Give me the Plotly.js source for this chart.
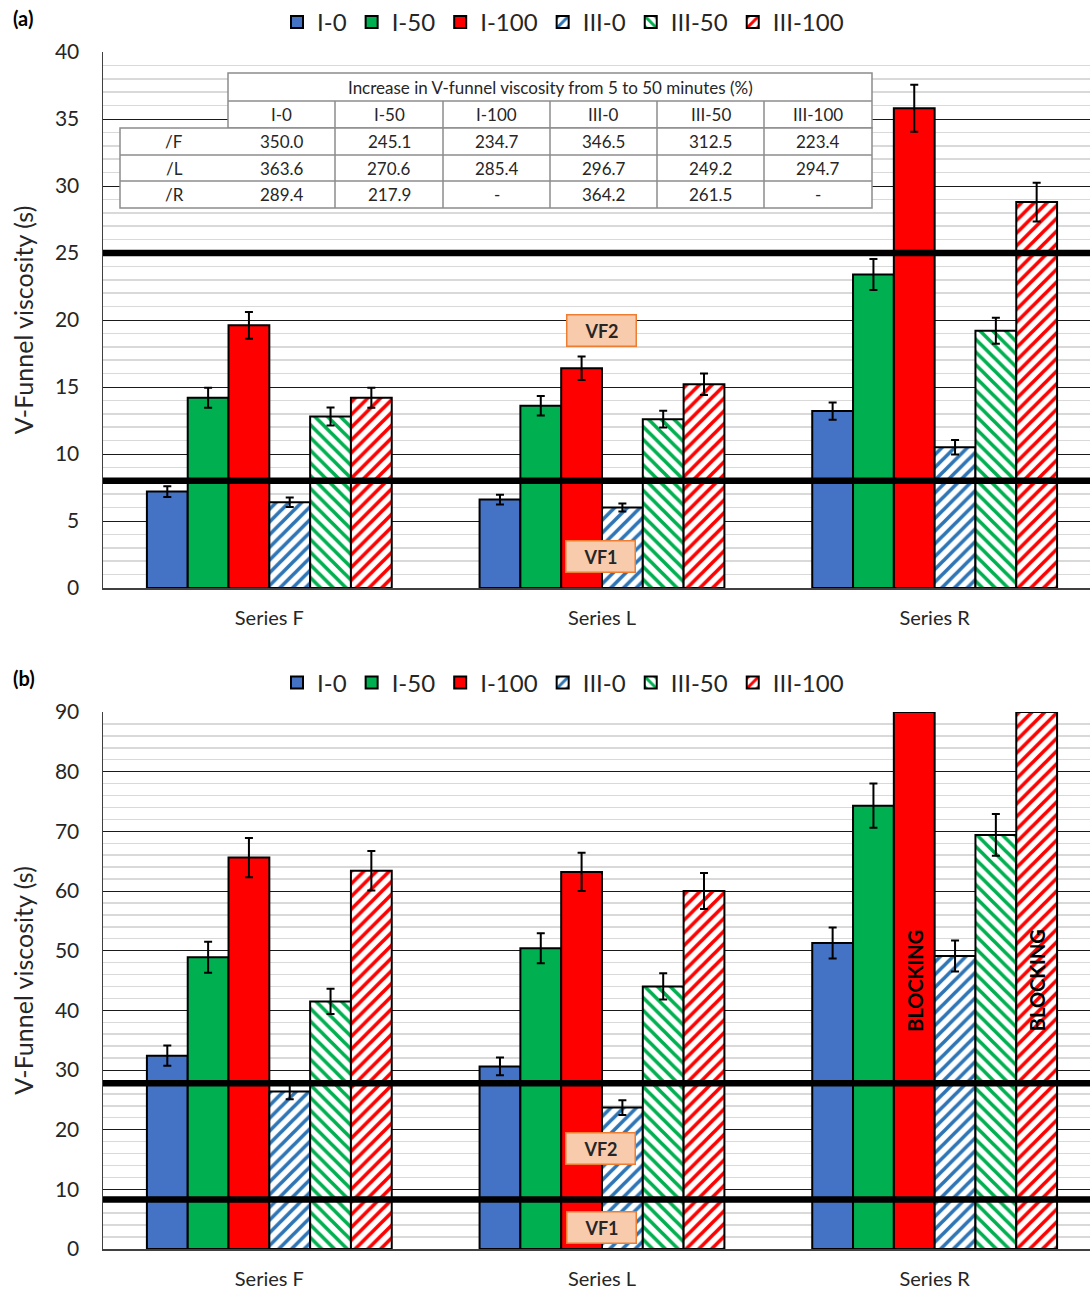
<!DOCTYPE html>
<html>
<head>
<meta charset="utf-8">
<script src="https://cdn.plot.ly/plotly-3.0.1.min.js"></script>
<style>html,body{margin:0;padding:0;background:#fff;}#chart{width:1090px;height:1292px;}</style>
</head>
<body>
<div id="chart"></div>
<script>
// ---------- DATA ----------
const categories = ['Series F', 'Series L', 'Series R'];
const seriesNames = ['I-0', 'I-50', 'I-100', 'III-0', 'III-50', 'III-100'];

// Panel (a): V-funnel at 5 minutes
const a_I0    = [7.2, 6.6, 13.2];
const a_I50   = [14.2, 13.6, 23.4];
const a_I100  = [19.6, 16.4, 35.8];
const a_III0  = [6.4, 6.0, 10.5];
const a_III50 = [12.8, 12.6, 19.2];
const a_III100= [14.2, 15.2, 28.8];
const aErr_I0    = [0.4, 0.36, 0.64];
const aErr_I50   = [0.75, 0.72, 1.16];
const aErr_I100  = [1.0, 0.87, 1.75];
const aErr_III0  = [0.35, 0.3, 0.54];
const aErr_III50 = [0.67, 0.62, 0.97];
const aErr_III100= [0.75, 0.8, 1.45];

// Panel (b): V-funnel at 50 minutes (90 = BLOCKING)
const b_I0    = [32.4, 30.6, 51.3];
const b_I50   = [48.9, 50.4, 74.3];
const b_I100  = [65.6, 63.2, 90];
const b_III0  = [26.4, 23.7, 49.1];
const b_III50 = [41.5, 44.0, 69.4];
const b_III100= [63.4, 60.0, 90];
const bErr_I0    = [1.7, 1.5, 2.6];
const bErr_I50   = [2.6, 2.5, 3.7];
const bErr_I100  = [3.3, 3.2, null];
const bErr_III0  = [1.3, 1.25, 2.6];
const bErr_III50 = [2.1, 2.2, 3.5];
const bErr_III100= [3.3, 3.0, null];

// Class limits
const limitsA = [8, 25];
const limitsB = [8.3, 27.8];

// Inset table (Increase from 5 to 50 minutes, %)
const tableTitle = 'Increase in V-funnel viscosity from 5 to 50 minutes (%)';
const tableRowLabels = ['/F', '/L', '/R'];
const tableRowF = ['350.0', '245.1', '234.7', '346.5', '312.5', '223.4'];
const tableRowL = ['363.6', '270.6', '285.4', '296.7', '249.2', '294.7'];
const tableRowR = ['289.4', '217.9', '-', '364.2', '261.5', '-'];

// ---------- STYLE ----------
const FONT = 'Lato, "Open Sans", sans-serif';
const colors = ['#4472c4', '#00b050', '#ff0000', '#2e75b6', '#00b050', '#ff0000'];
const patterns = ['', '', '', '/', '\\', '/'];
const BARGAP = 0.264;

const W = 1090, H = 1292, ML = 103, MR = 0, MT = 52, MB = 43;
const plotW = W - ML - MR, plotH = H - MT - MB;
const px = x => (x - ML) / plotW;
const py = y => (H - MB - y) / plotH;

const dataA = [a_I0, a_I50, a_I100, a_III0, a_III50, a_III100];
const errA = [aErr_I0, aErr_I50, aErr_I100, aErr_III0, aErr_III50, aErr_III100];
const dataB = [b_I0, b_I50, b_I100, b_III0, b_III50, b_III100];
const errB = [bErr_I0, bErr_I50, bErr_I100, bErr_III0, bErr_III50, bErr_III100];

function makeTrace(i, vals, errs, xa, ya, legendId) {
  const marker = {line: {color: '#000', width: 2}};
  if (patterns[i]) {
    marker.color = '#ffffff';
    marker.pattern = {shape: patterns[i], fgcolor: colors[i], bgcolor: '#ffffff', size: 9, solidity: 0.4, fillmode: 'replace'};
  } else {
    marker.color = colors[i];
  }
  return {
    type: 'bar', name: seriesNames[i], x: categories, y: vals,
    xaxis: xa, yaxis: ya, legend: legendId,
    marker: marker,
    error_y: {type: 'data', array: errs, visible: true, color: '#000', thickness: 2, width: 4},
    hoverinfo: 'x+y+name'
  };
}

const traces = [];
for (let i = 0; i < 6; i++) traces.push(makeTrace(i, dataA[i], errA[i], 'x', 'y', 'legend'));
for (let i = 0; i < 6; i++) traces.push(makeTrace(i, dataB[i], errB[i], 'x2', 'y2', 'legend2'));

// ---------- SHAPES ----------
const shapes = [];
limitsA.forEach(v => shapes.push({type: 'line', xref: 'x domain', yref: 'y', x0: 0, x1: 1, y0: v, y1: v, line: {color: '#000', width: 6.5}, layer: 'above'}));
limitsB.forEach(v => shapes.push({type: 'line', xref: 'x2 domain', yref: 'y2', x0: 0, x1: 1, y0: v, y1: v, line: {color: '#000', width: 6.5}, layer: 'above'}));

// Table geometry (pixels)
const colEdges = [120, 228, 335, 443, 550, 657, 764, 872];
const rowEdges = [73, 101, 128, 155, 181, 208];
const tb = {color: '#8c8c8c', width: 1.5};
shapes.push({type: 'rect', xref: 'paper', yref: 'paper', x0: px(colEdges[1]), x1: px(colEdges[7]), y0: py(rowEdges[0]), y1: py(rowEdges[2]), fillcolor: '#fff', line: tb, layer: 'above'});
shapes.push({type: 'rect', xref: 'paper', yref: 'paper', x0: px(colEdges[0]), x1: px(colEdges[7]), y0: py(rowEdges[2]), y1: py(rowEdges[5]), fillcolor: '#fff', line: tb, layer: 'above'});
shapes.push({type: 'line', xref: 'paper', yref: 'paper', x0: px(colEdges[1]), x1: px(colEdges[7]), y0: py(rowEdges[1]), y1: py(rowEdges[1]), line: tb, layer: 'above'});
[3, 4].forEach(r => shapes.push({type: 'line', xref: 'paper', yref: 'paper', x0: px(colEdges[0]), x1: px(colEdges[7]), y0: py(rowEdges[r]), y1: py(rowEdges[r]), line: tb, layer: 'above'}));
for (let c = 2; c < 7; c++) shapes.push({type: 'line', xref: 'paper', yref: 'paper', x0: px(colEdges[c]), x1: px(colEdges[c]), y0: py(rowEdges[1]), y1: py(rowEdges[5]), line: tb, layer: 'above'});

// ---------- ANNOTATIONS ----------
const ann = [];
const tfont = {family: FONT, size: 17, color: '#262626'};
const cx = c => px((colEdges[c] + colEdges[c + 1]) / 2);
const cy = r => py((rowEdges[r] + rowEdges[r + 1]) / 2);
const cell = (x, y, text) => ({xref: 'paper', yref: 'paper', x: x, y: y, xanchor: 'center', yanchor: 'middle', text: text, showarrow: false, font: tfont});
ann.push(cell(px((colEdges[1] + colEdges[7]) / 2), cy(0), tableTitle));
seriesNames.forEach((s, c) => ann.push(cell(cx(c + 1), cy(1), s)));
const tableRows = [tableRowF, tableRowL, tableRowR];
tableRows.forEach((row, r) => {
  ann.push(cell(cx(0), cy(r + 2), tableRowLabels[r]));
  row.forEach((v, c) => ann.push(cell(cx(c + 1), cy(r + 2), v)));
});

// VF boxes
function vfBox(text, xPix, yPix) {
  return {xref: 'paper', yref: 'paper', x: px(xPix), y: py(yPix), xanchor: 'center', yanchor: 'middle', text: '<b>' + text + '</b>', showarrow: false,
    font: {family: FONT, size: 18, color: '#262626'}, bgcolor: '#f8cbad', bordercolor: '#ed7d31', borderwidth: 1.5,
    width: 66, height: 28};
}
ann.push(vfBox('VF2', 601, 330));
ann.push(vfBox('VF1', 600, 556));
ann.push(vfBox('VF2', 600, 1148));
ann.push(vfBox('VF1', 601, 1227));

// BLOCKING labels
const barW = (1 - BARGAP) / 6;
const barX = (cat, k) => cat - (1 - BARGAP) / 2 + (k + 0.5) * barW;
[2, 5].forEach(k => {
  if (dataB[k][2] >= 90) ann.push({xref: 'x2', yref: 'y2', x: barX(2, k), y: 45, xanchor: 'center', yanchor: 'middle', text: '<b>BLOCKING</b>', textangle: -90,
    showarrow: false, font: {family: FONT, size: 20, color: '#000'}});
});

// Panel labels
ann.push({xref: 'paper', yref: 'paper', x: px(11), y: py(18), xanchor: 'left', yanchor: 'middle', text: '<b>(a)</b>', showarrow: false, font: {family: FONT, size: 20, color: '#000'}});
ann.push({xref: 'paper', yref: 'paper', x: px(11), y: py(678), xanchor: 'left', yanchor: 'middle', text: '<b>(b)</b>', showarrow: false, font: {family: FONT, size: 20, color: '#000'}});

// ---------- LAYOUT ----------
const yDomA = [py(588), 1];
const yDomB = [0, py(712)];
const xRange = [-0.5, 2.467];
const xCommon = {type: 'category', range: xRange, showgrid: false, ticks: '', showline: true, linecolor: '#404040', linewidth: 1.5,
  tickfont: {family: FONT, size: 20, color: '#262626'}, ticklabelstandoff: 11, fixedrange: true};
const yCommon = {showline: true, linecolor: '#404040', linewidth: 1.5, ticks: '', gridcolor: '#1a1a1a', gridwidth: 1, zeroline: false,
  tickfont: {family: FONT, size: 21, color: '#262626'}, ticklabelstandoff: 18,
  title: {text: 'V-Funnel viscosity (s)', font: {family: FONT, size: 25, color: '#262626'}, standoff: 14}};

const legendCommon = {orientation: 'h', xanchor: 'center', yanchor: 'middle', x: px(563), font: {family: FONT, size: 24, color: '#262626'},
  bgcolor: 'rgba(0,0,0,0)', itemclick: false, itemdoubleclick: false, traceorder: 'normal'};

const layout = {
  width: W, height: H,
  margin: {l: ML, r: MR, t: MT, b: MB},
  paper_bgcolor: '#fff', plot_bgcolor: '#fff',
  font: {family: FONT},
  barmode: 'group', bargap: BARGAP, bargroupgap: 0,
  showlegend: true,
  xaxis: Object.assign({}, xCommon, {anchor: 'y'}),
  xaxis2: Object.assign({}, xCommon, {anchor: 'y2'}),
  yaxis: Object.assign({}, yCommon, {domain: yDomA, range: [0, 40], dtick: 5, anchor: 'x',
    minor: {dtick: 1, showgrid: true, gridcolor: '#d9d9d9', gridwidth: 1.5}}),
  yaxis2: Object.assign({}, yCommon, {domain: yDomB, range: [0, 90], dtick: 10, anchor: 'x2',
    minor: {dtick: 2, showgrid: true, gridcolor: '#d9d9d9', gridwidth: 1.5}}),
  legend: Object.assign({}, legendCommon, {y: py(22)}),
  legend2: Object.assign({}, legendCommon, {y: py(683)}),
  shapes: shapes,
  annotations: ann
};

Plotly.newPlot('chart', traces, layout, {staticPlot: true, displayModeBar: false});
</script>
</body>
</html>
